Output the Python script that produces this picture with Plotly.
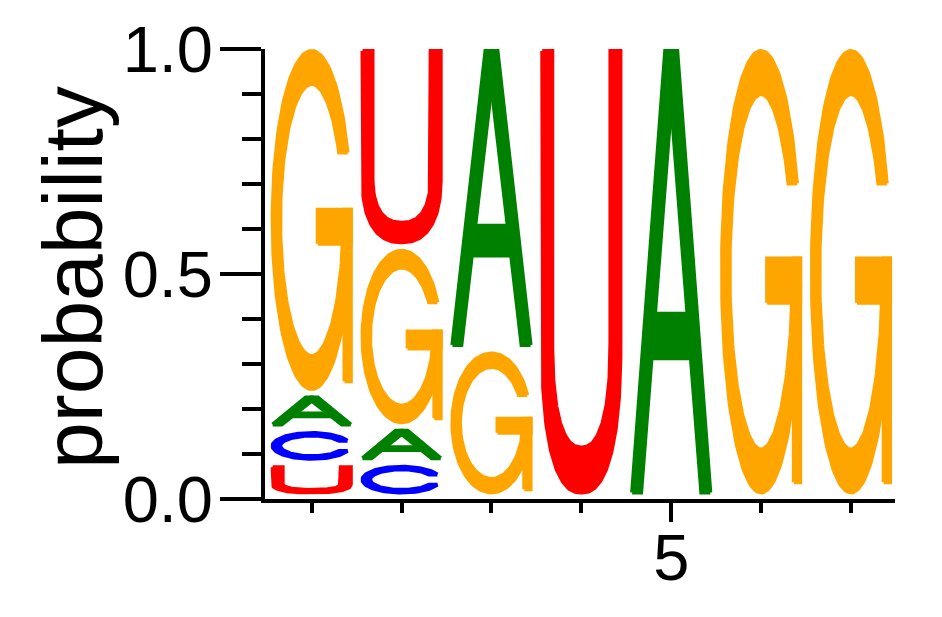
import numpy as np
import plotly.graph_objects as go

# ---------------- data ----------------
positions = [1, 2, 3, 4, 5, 6, 7]
bases = ["A", "C", "G", "U"]
prob_A = [0.079, 0.080, 0.672, 0.0, 1.0, 0.0, 0.0]
prob_C = [0.076, 0.076, 0.0, 0.0, 0.0, 0.0, 0.0]
prob_G = [0.770, 0.400, 0.328, 0.0, 0.0, 1.0, 1.0]
prob_U = [0.075, 0.444, 0.0, 1.0, 0.0, 0.0, 0.0]
base_colors = {"A": "#008000", "C": "#0000FF", "G": "#FFA500", "U": "#FF0000"}
y_tick_vals = [0.0, 0.5, 1.0]
y_tick_text = ["0.0", "0.5", "1.0"]
x_tick_vals = [5]
x_tick_text = ["5"]
y_title = "probability"

probs = {"A": prob_A, "C": prob_C, "G": prob_G, "U": prob_U}

# ---------------- glyph outlines (unit box) ----------------
def sellipse(cx, cy, a, b, t, n=2.0):
    c, s = np.cos(t), np.sin(t)
    x = cx + a * np.sign(c) * np.abs(c) ** (2.0 / n)
    y = cy + b * np.sign(s) * np.abs(s) ** (2.0 / n)
    return x, y


def ring_arc(cx, cy, ao, bo, ai, bi, v_start, v_end):
    # CCW from upper cut (v_start, right side) to lower cut (v_end, right side)
    t1o = np.arcsin((v_start - cy) / bo)
    t2o = 2 * np.pi + np.arcsin((v_end - cy) / bo)
    t1i = np.arcsin((v_start - cy) / bi)
    t2i = 2 * np.pi + np.arcsin((v_end - cy) / bi)
    to = np.linspace(t1o, t2o, 160)
    ti = np.linspace(t2i, t1i, 160)
    xo, yo = sellipse(cx, cy, ao, bo, to)
    xi, yi = sellipse(cx, cy, ai, bi, ti)
    return np.concatenate([xo, xi]), np.concatenate([yo, yi])


def glyph(letter):
    polys = []
    if letter in ("G", "C"):
        ao, bo, ai, bi = 0.5, 0.5, 0.404, 0.4025
        if letter == "G":
            polys.append(ring_arc(0.5, 0.5, ao, bo, ai, bi, 0.70, 0.47))
            polys.append((np.array([0.577, 1.0, 1.0, 0.577]), np.array([0.43, 0.43, 0.53, 0.53])))
            polys.append((np.array([0.919, 1.0, 1.0, 0.919]), np.array([0.023, 0.023, 0.53, 0.53])))
        else:
            polys.append(ring_arc(0.5, 0.5, ao, bo, ai, bi, 0.70, 0.30))
    elif letter == "U":
        c, w, n = 0.34, 0.128, 2.4
        t = np.linspace(np.pi, 2 * np.pi, 160)
        xo, yo = sellipse(0.5, c, 0.5, c, t, n)
        xi, yi = sellipse(0.5, c, 0.5 - w, c - 0.102, t[::-1], n)
        x = np.concatenate([[0.0], xo, [1.0, 1.0 - w], xi, [w]])
        y = np.concatenate([[1.0], yo, [1.0, 1.0], yi, [1.0]])
        polys.append((x, y))
    elif letter == "A":
        polys.append((np.array([0.0, 0.423, 0.5, 0.5, 0.115]), np.array([0.0, 1.0, 1.0, 0.88, 0.0])))
        polys.append((np.array([1.0, 0.577, 0.5, 0.5, 0.885]), np.array([0.0, 1.0, 1.0, 0.88, 0.0])))
        polys.append((np.array([0.2, 0.8, 0.8, 0.2]), np.array([0.304, 0.304, 0.405, 0.405])))
    return polys


# ---------------- figure ----------------
fig = go.Figure()
half_w = 0.435
pad_bottom = 0.0144
pad_top = 0.0044

for i, pos in enumerate(positions):
    col = [(b, probs[b][i]) for b in bases if probs[b][i] > 0]
    col.sort(key=lambda t: t[1])
    base_y = 0.0
    for letter, p in col:
        y0 = base_y + pad_bottom
        y1 = base_y + p - pad_top
        for gx, gy in glyph(letter):
            xs = pos - half_w + 2 * half_w * gx
            ys = y0 + (y1 - y0) * gy
            xs = np.append(xs, xs[0])
            ys = np.append(ys, ys[0])
            fig.add_trace(go.Scatter(
                x=xs, y=ys, mode="lines", fill="toself",
                fillcolor=base_colors[letter],
                line=dict(color=base_colors[letter], width=4),
                hoverinfo="skip", showlegend=False,
            ))
        base_y += p

font_family = "Liberation Sans, Arial, sans-serif"

fig.update_layout(
    width=942, height=617,
    margin=dict(l=265, r=47, t=49, b=118),
    paper_bgcolor="white", plot_bgcolor="white",
    font=dict(family=font_family, color="black"),
    showlegend=False,
    annotations=[dict(
        text=y_title, textangle=-90, showarrow=False,
        xref="paper", yref="paper", x=0, y=0.5, xshift=-192, yshift=-4,
        xanchor="center", yanchor="middle",
        font=dict(size=84, family=font_family, color="black"),
    )],
)
fig.update_xaxes(
    range=[0.48, 7.49], showgrid=False, zeroline=False,
    showline=True, linewidth=4, linecolor="black",
    tickmode="array", tickvals=x_tick_vals, ticktext=x_tick_text,
    ticks="outside", ticklen=19, tickwidth=4, tickcolor="black",
    ticklabelstandoff=-20,
    tickfont=dict(size=65, family=font_family, color="black"),
    minor=dict(tickmode="array", tickvals=positions, ticks="outside",
               ticklen=10, tickwidth=4, tickcolor="black", showgrid=False),
)
fig.update_yaxes(
    range=[0, 1], showgrid=False, zeroline=False,
    showline=True, linewidth=4, linecolor="black",
    tickmode="array", tickvals=y_tick_vals, ticktext=y_tick_text,
    ticks="outside", ticklen=41, tickwidth=4, tickcolor="black",
    ticklabelstandoff=-6,
    tickfont=dict(size=65, family=font_family, color="black"),
    minor=dict(dtick=0.1, ticks="outside", ticklen=19, tickwidth=4,
               tickcolor="black", showgrid=False),
)

fig.write_html("out.html", config={"displayModeBar": False},
               post_script="document.body.style.margin='0';")
